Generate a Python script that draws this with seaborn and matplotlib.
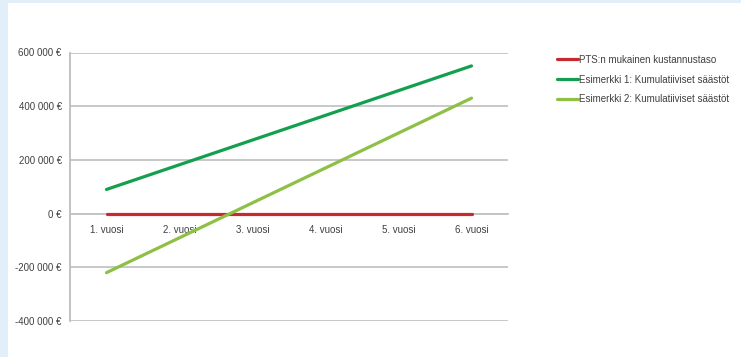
import seaborn as sns
import matplotlib.pyplot as plt
import matplotlib.ticker as mticker
import matplotlib.patches as mpatches
import pandas as pd

years = ["1. vuosi", "2. vuosi", "3. vuosi", "4. vuosi", "5. vuosi", "6. vuosi"]
pts_level = [0, 0, 0, 0, 0, 0]
example1 = [90000, 182000, 274000, 366000, 458000, 550000]
example2 = [-220000, -90000, 40000, 170000, 300000, 430000]
series_names = ["PTS:n mukainen kustannustaso",
                "Esimerkki 1: Kumulatiiviset säästöt",
                "Esimerkki 2: Kumulatiiviset säästöt"]
colors = ["#c9282d", "#12a04e", "#8dc044"]
y_ticks = [-400000, -200000, 0, 200000, 400000, 600000]

df = pd.DataFrame({
    "vuosi": years * 3,
    "arvo": pts_level + example1 + example2,
    "sarja": [series_names[0]] * 6 + [series_names[1]] * 6 + [series_names[2]] * 6,
})

sns.set_style("white")
plt.rcParams["font.family"] = ["Liberation Sans", "DejaVu Sans"]

fig = plt.figure(figsize=(7.41, 3.57), dpi=100, facecolor="#e2eef8")
# white card with thin blue border on left and top
fig.patches.append(mpatches.Rectangle((8 / 741, 0), 1, 1 - 3 / 357, transform=fig.transFigure,
                                      facecolor="white", edgecolor="none", zorder=-5))

ax = fig.add_axes([70 / 741, 36 / 357, 438 / 741, 268.5 / 357])
ax.set_facecolor("none")

sns.lineplot(data=df, x="vuosi", y="arvo", hue="sarja", hue_order=series_names,
             palette=colors, linewidth=2.3, sort=False, ax=ax, legend=False, zorder=3)

ax.set_xlim(-0.5, 5.5)
ax.set_ylim(-400000, 600000)
ax.set_yticks(y_ticks)
ax.yaxis.set_major_formatter(mticker.FuncFormatter(
    lambda v, p: "{:,.0f} €".format(v).replace(",", " ")))
ax.grid(axis="y", color="#c4c4c4", linewidth=1.3)
ax.set_axisbelow(True)

for s in ["top", "right"]:
    ax.spines[s].set_visible(False)
ax.spines["left"].set_color("#bdbdbd")
ax.spines["left"].set_linewidth(1.3)
ax.spines["bottom"].set_position(("data", 0))
ax.spines["bottom"].set_color("#c4c4c4")
ax.spines["bottom"].set_linewidth(1.3)

ax.tick_params(axis="y", length=4, color="#bdbdbd", labelsize=7, labelcolor="#404040", pad=2)
ax.tick_params(axis="x", length=0, labelsize=7, labelcolor="#404040", pad=8)
ax.set_xlabel("")
ax.set_ylabel("")

handles = [plt.Line2D([], [], color=c, linewidth=2.3) for c in colors]
fig.legend(handles, series_names, loc="upper left", bbox_to_anchor=(552 / 741, 1 - 50 / 357),
           frameon=False, fontsize=7, handlelength=2.2, handletextpad=0.1,
           labelspacing=1.0, borderpad=0, labelcolor="#404040")

fig.savefig("out.png", dpi=100, facecolor=fig.get_facecolor())
